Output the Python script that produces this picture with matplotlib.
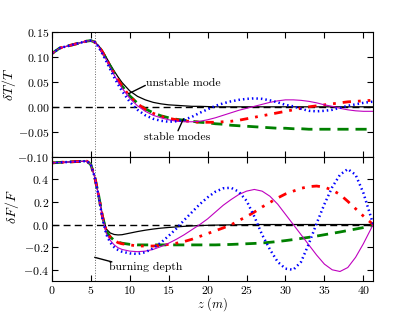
import matplotlib
matplotlib.use('Agg')
import matplotlib.pyplot as plt

plt.rcParams['font.family'] = 'cmr10'
plt.rcParams['mathtext.fontset'] = 'cm'
plt.rcParams['axes.formatter.use_mathtext'] = True
plt.rcParams['xtick.direction'] = 'in'
plt.rcParams['ytick.direction'] = 'in'
plt.rcParams['xtick.top'] = True
plt.rcParams['ytick.right'] = True
plt.rcParams['font.size'] = 9

# depth grid (m)
z = [0, 1, 2, 3, 4, 4.5, 5, 5.5, 6, 6.5, 7, 7.5, 8, 8.5, 9] + list(range(10, 42)) + [41.25]

# temperature perturbation dT/T
dT_head = [0.107, 0.118, 0.122, 0.126, 0.130, 0.132, 0.133, 0.130]
dT_unstable = dT_head + [0.123, 0.112, 0.099, 0.085, 0.072, 0.060, 0.049,
    0.032, 0.021, 0.014, 0.009, 0.006, 0.004, 0.003, 0.002, 0.001, 0.001, 0.0005] + [0] * 22
dT_green = dT_head + [0.122, 0.110, 0.096, 0.081, 0.067, 0.054, 0.042,
    0.022, 0.007, -0.004, -0.012, -0.018, -0.022, -0.025, -0.027, -0.029, -0.031,
    -0.032, -0.034, -0.035, -0.037, -0.038, -0.039, -0.040, -0.041, -0.042, -0.043,
    -0.043, -0.044, -0.044, -0.045, -0.045, -0.045, -0.045, -0.045, -0.045, -0.045,
    -0.045, -0.045, -0.045]
dT_red = dT_head + [0.122, 0.110, 0.096, 0.081, 0.067, 0.054, 0.042,
    0.021, 0.006, -0.005, -0.013, -0.019, -0.023, -0.026, -0.028, -0.030, -0.031,
    -0.031, -0.031, -0.030, -0.029, -0.027, -0.024, -0.021, -0.018, -0.015, -0.012,
    -0.009, -0.006, -0.003, 0.000, 0.002, 0.004, 0.006, 0.008, 0.010, 0.011,
    0.012, 0.013, 0.013]
dT_magenta = dT_head + [0.121, 0.108, 0.094, 0.079, 0.064, 0.050, 0.038,
    0.017, 0.002, -0.009, -0.017, -0.022, -0.026, -0.029, -0.030, -0.030, -0.029,
    -0.026, -0.022, -0.017, -0.012, -0.007, -0.003, 0.001, 0.005, 0.009, 0.012,
    0.014, 0.014, 0.013, 0.011, 0.008, 0.004, 0.001, -0.003, -0.006, -0.008,
    -0.009, -0.009, -0.009]
dT_blue = dT_head + [0.120, 0.106, 0.091, 0.075, 0.059, 0.045, 0.032,
    0.010, -0.006, -0.017, -0.024, -0.028, -0.030, -0.029, -0.026, -0.020, -0.012,
    -0.005, 0.002, 0.007, 0.011, 0.014, 0.016, 0.017, 0.016, 0.013, 0.009,
    0.004, 0.001, -0.004, -0.008, -0.009, -0.008, -0.006, -0.002, 0.002, 0.005,
    0.008, 0.010, 0.010]

# flux perturbation dF/F
dF_head = [0.545, 0.549, 0.552, 0.556, 0.559, 0.560, 0.530, 0.420]
dF_unstable = dF_head + [0.26, 0.08, -0.04, -0.075, -0.088, -0.092, -0.090,
    -0.076, -0.062, -0.050, -0.040, -0.032, -0.026, -0.021, -0.016, -0.012, -0.009,
    -0.007, -0.005, -0.004, -0.003, -0.002, -0.001] + [0] * 17
dF_green = dF_head + [0.26, 0.07, -0.06, -0.11, -0.14, -0.155, -0.165,
    -0.175, -0.18, -0.18, -0.18, -0.18, -0.18, -0.18, -0.18, -0.18, -0.18,
    -0.18, -0.18, -0.178, -0.176, -0.173, -0.17, -0.167, -0.163, -0.157, -0.15,
    -0.142, -0.133, -0.123, -0.113, -0.102, -0.09, -0.078, -0.066, -0.053, -0.04,
    -0.027, -0.012, -0.005]
dF_red = dF_head + [0.26, 0.07, -0.06, -0.11, -0.14, -0.16, -0.17,
    -0.18, -0.19, -0.19, -0.19, -0.185, -0.175, -0.165, -0.15, -0.13, -0.105,
    -0.08, -0.055, -0.03, -0.003, 0.035, 0.07, 0.11, 0.155, 0.195, 0.235,
    0.27, 0.295, 0.32, 0.335, 0.34, 0.33, 0.305, 0.265, 0.205, 0.14,
    0.075, 0.015, 0.0]
dF_magenta = dF_head + [0.255, 0.06, -0.08, -0.14, -0.18, -0.205, -0.22,
    -0.235, -0.24, -0.235, -0.22, -0.195, -0.165, -0.13, -0.09, -0.045, 0.0,
    0.05, 0.11, 0.17, 0.22, 0.265, 0.295, 0.31, 0.295, 0.25, 0.18,
    0.09, 0.0, -0.09, -0.18, -0.27, -0.35, -0.40, -0.415, -0.38, -0.29,
    -0.17, -0.035, 0.0]
dF_blue = dF_head + [0.25, 0.05, -0.09, -0.16, -0.20, -0.225, -0.24,
    -0.255, -0.26, -0.245, -0.21, -0.16, -0.10, -0.035, 0.04, 0.11, 0.18,
    0.24, 0.29, 0.32, 0.325, 0.29, 0.21, 0.07, -0.09, -0.22, -0.33,
    -0.39, -0.40, -0.33, -0.17, 0.01, 0.18, 0.33, 0.44, 0.49, 0.44,
    0.28, 0.06, 0.0]

burn_depth = 5.5

fig, (ax1, ax2) = plt.subplots(2, 1, sharex=True, figsize=(4.15, 3.12), dpi=100)
fig.subplots_adjust(left=0.125, right=0.899, top=0.897, bottom=0.099, hspace=0)

for ax, (u, g, r, m, b) in zip((ax1, ax2),
        [(dT_unstable, dT_green, dT_red, dT_magenta, dT_blue),
         (dF_unstable, dF_green, dF_red, dF_magenta, dF_blue)]):
    ax.axhline(0, color='k', ls='--', lw=1, dashes=(5, 3))
    ax.axvline(burn_depth, color='0.4', ls=':', lw=0.7)
    ax.plot(z, u, 'k-', lw=0.9)
    ax.plot(z, g, color='g', ls='--', lw=2, dashes=(4, 2.5))
    ax.plot(z, r, color='r', ls='-.', lw=2, dashes=(1, 2.5, 1, 2.5, 3, 2.5))
    ax.plot(z, m, color='m', ls='-', lw=0.8)
    ax.plot(z, b, color='b', ls=':', lw=1.8, dashes=(0.6, 1.2))
    ax.set_xlim(0, 41.25)
    ax.tick_params(length=4, width=0.8, labelsize=8.5, pad=2)

ax1.set_ylim(-0.1, 0.15)
ax1.set_yticks([-0.10, -0.05, 0.00, 0.05, 0.10, 0.15])
ax2.set_ylim(-0.5, 0.6)
ax2.set_yticks([-0.4, -0.2, 0.0, 0.2, 0.4])
ax2.set_xticks([0, 5, 10, 15, 20, 25, 30, 35, 40])

ax1.set_ylabel(r'$\delta T/T$', fontsize=10)
ax1.yaxis.set_label_coords(-0.105, 0.58)
ax2.set_ylabel(r'$\delta F/F$', fontsize=10)
ax2.yaxis.set_label_coords(-0.095, 0.6)
ax2.set_xlabel(r'$z\ (m)$', fontsize=9)
ax2.xaxis.set_label_coords(0.5, -0.115)

line = dict(arrowstyle='-', color='k', lw=1, shrinkA=0, shrinkB=0)
ax1.annotate('', xy=(9.8, 0.026), xytext=(12.0, 0.043), arrowprops=line)
ax1.text(12.1, 0.047, 'unstable mode', fontsize=8.5, va='center', ha='left')
ax1.annotate('', xy=(16.9, -0.024), xytext=(16.2, -0.048), arrowprops=line)
ax1.text(11.8, -0.062, 'stable modes', fontsize=8.5, va='center', ha='left')
ax2.annotate('', xy=(5.5, -0.29), xytext=(7.7, -0.33), arrowprops=line)
ax2.text(7.4, -0.375, 'burning depth', fontsize=8.5, va='center', ha='left')

fig.savefig('out.png', dpi=100)
